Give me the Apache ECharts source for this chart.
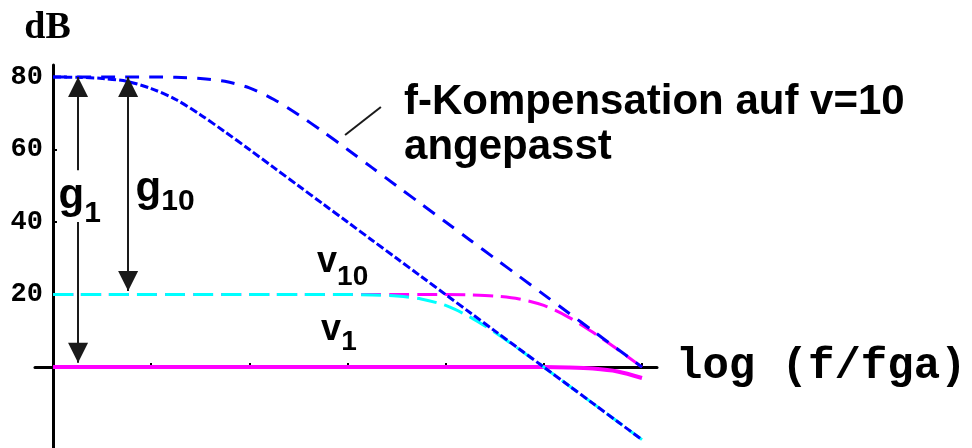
<!DOCTYPE html>
<html>
<head>
<meta charset="utf-8">
<script src="https://cdn.jsdelivr.net/npm/echarts@6/dist/echarts.min.js"></script>
<style>
  html, body { margin: 0; padding: 0; background: #ffffff; }
  #chart { width: 972px; height: 448px; }
</style>
</head>
<body>
<div id="chart"></div>
<script>
// log(f/fga) sample points shared by every curve
const logFreq = [3, 3.25, 3.5, 3.75, 4, 4.25, 4.5, 4.75, 5, 5.25, 5.5, 5.75, 6,
                 6.25, 6.5, 6.75, 7, 7.25, 7.5, 7.75, 8, 8.25, 8.5, 8.75, 9];

// open-loop gain, uncompensated (dB)
const openLoopDb = [80, 79.9, 79.6, 78.8, 76.8, 73.8, 69.6, 64.9, 60, 55, 50, 45, 40,
                    35, 30, 25, 20, 15, 10, 5, 0, -5, -10, -15, -20];
// open-loop gain with frequency compensation matched to v=10 (dB)
const compensatedOpenLoopDb = [80, 80, 80, 80, 80, 79.9, 79.6, 78.8, 77, 73.8, 69.6, 64.9, 60,
                               55, 50, 45, 40, 35, 30, 25, 20, 15, 10, 5, 0];
// closed loop v=10, uncompensated amplifier (dB)
const closedLoopV10Db = [20, 20, 20, 20, 20, 20, 20, 20, 20, 20, 20, 20, 20,
                         19.9, 19.6, 18.8, 17, 13.8, 9.6, 4.9, 0, -5, -10, -15, -20];
// closed loop v=10, compensated amplifier (dB)
const compensatedV10Db = [20, 20, 20, 20, 20, 20, 20, 20, 20, 20, 20, 20, 20,
                          20, 20, 20, 20, 19.9, 19.6, 18.8, 17, 13.8, 9.6, 4.9, 0];
// closed loop v=1, compensated amplifier (dB)
const compensatedV1Db = [0, 0, 0, 0, 0, 0, 0, 0, 0, 0, 0, 0, 0,
                         0, 0, 0, 0, 0, 0, 0, 0, -0.1, -0.4, -1.2, -3];

const xTickValues = [4, 5, 6, 7, 8, 9];
const yTickValues = [20, 40, 60, 80];

const BLUE = '#0000ff', CYAN = '#00ffff', MAGENTA = '#ff00ff';
const SANS = '"Liberation Sans", Arial, Helvetica, sans-serif';
const MONO = '"Liberation Mono", "Courier New", monospace';

function toPairs(values) {
  return logFreq.map((x, i) => [x, values[i]]);
}

function curve(name, values, color, dash, width) {
  return {
    name: name,
    type: 'line',
    data: toPairs(values),
    smooth: 0.3,
    showSymbol: false,
    silent: true,
    lineStyle: { color: color, width: width, type: dash },
    z: 2
  };
}

// one text piece anchored at its left / vertical middle
function textPiece(x, y, text, size) {
  return {
    value: [x, y],
    label: {
      formatter: text,
      fontFamily: SANS, fontWeight: 'bold',
      fontSize: size, lineHeight: size,
      color: '#000000', opacity: 1
    }
  };
}

const annotationItems = [
  textPiece(3.056, 46.95, 'g', 42),
  textPiece(3.317, 42.2, '1', 30),
  textPiece(3.84, 48.9, 'g', 42),
  textPiece(4.102, 45.5, '10', 30),
  textPiece(5.69, 28.9, 'v', 36),
  textPiece(5.894, 24.7, '10', 28),
  textPiece(5.73, 10.1, 'v', 36),
  textPiece(5.935, 6.8, '1', 28),
  {
    value: [6.576, 79.3],
    label: {
      formatter: 'f-Kompensation auf v=10\nangepasst',
      verticalAlign: 'top',
      fontFamily: SANS, fontWeight: 'bold', fontSize: 42, lineHeight: 45,
      color: '#000000', opacity: 1
    }
  }
];

const arrowHead = { symbol: 'triangle', symbolSize: [20, 20], symbolOffset: [0, 10] };

const chart = echarts.init(document.getElementById('chart'), null, { renderer: 'canvas' });

chart.setOption({
  animation: false,
  backgroundColor: '#ffffff',
  grid: { left: 35, right: 315, top: 65, bottom: 0, containLabel: false, outerBoundsMode: 'none' },
  xAxis: {
    type: 'value',
    min: 2.816,
    max: 9.153,
    axisLine: { onZero: true, lineStyle: { color: '#000', width: 3 } },
    axisTick: { show: true, inside: true, length: 4, customValues: xTickValues, lineStyle: { color: '#000', width: 2 } },
    axisLabel: {
      customValues: xTickValues,
      margin: 11,
      fontFamily: MONO, fontWeight: 'bold', fontSize: 27, lineHeight: 27, color: '#000'
    },
    splitLine: { show: false },
    name: 'log (f/fga)',
    nameLocation: 'end',
    nameGap: 19,
    nameTextStyle: { fontFamily: MONO, fontWeight: 'bold', fontSize: 44, color: '#000', align: 'left', verticalAlign: 'middle' }
  },
  yAxis: {
    type: 'value',
    min: -22.3,
    max: 83.3,
    position: 'left',
    offset: -18,
    axisLine: { show: true, onZero: false, lineStyle: { color: '#000', width: 3 } },
    axisTick: { show: true, inside: true, length: 4, customValues: yTickValues, lineStyle: { color: '#000', width: 2 } },
    axisLabel: {
      customValues: yTickValues,
      margin: 10,
      fontFamily: MONO, fontWeight: 'bold', fontSize: 27, lineHeight: 27, color: '#000'
    },
    splitLine: { show: false },
    name: 'dB',
    nameLocation: 'end',
    nameGap: 18,
    nameTextStyle: { fontFamily: '"Liberation Serif", "Times New Roman", serif', fontWeight: 'bold', fontSize: 38, lineHeight: 38, color: '#000', padding: [0, 11, 0, 0] }
  },
  series: [
    curve('v1 kompensiert', compensatedV1Db, MAGENTA, 'solid', 4),
    curve('v10 kompensiert', compensatedV10Db, MAGENTA, [20, 8], 3),
    curve('v10', closedLoopV10Db, CYAN, [20, 8], 3),
    curve('Leerlaufverstärkung', openLoopDb, BLUE, [8, 3], 3),
    curve('f-Kompensation', compensatedOpenLoopDb, BLUE, [14, 10], 3),
    {
      name: 'Beschriftung',
      type: 'scatter',
      symbolSize: 0,
      silent: true,
      z: 5,
      itemStyle: { opacity: 1 },
      data: annotationItems,
      label: { show: true, position: [0, 0], align: 'left', verticalAlign: 'middle', color: '#000000', opacity: 1, textBorderWidth: 0 },
      markLine: {
        silent: true,
        animation: false,
        symbol: 'none',
        label: { show: false },
        lineStyle: { color: '#1a1a1a', width: 2, type: 'solid', opacity: 1 },
        data: [
          // g1: open-loop gain minus v=1, line interrupted by its label
          [Object.assign({ coord: [3.255, 80] }, arrowHead), { coord: [3.255, 54.3], symbol: 'none' }],
          [{ coord: [3.255, 40], symbol: 'none' }, Object.assign({ coord: [3.255, 1.2] }, arrowHead)],
          // g10: open-loop gain minus v=10
          [Object.assign({ coord: [3.765, 80] }, arrowHead), Object.assign({ coord: [3.765, 21] }, arrowHead)],
          // leader from the caption to the compensated curve
          [{ coord: [5.975, 64] }, { coord: [6.34, 71.7] }]
        ]
      }
    }
  ]
});
</script>
</body>
</html>
